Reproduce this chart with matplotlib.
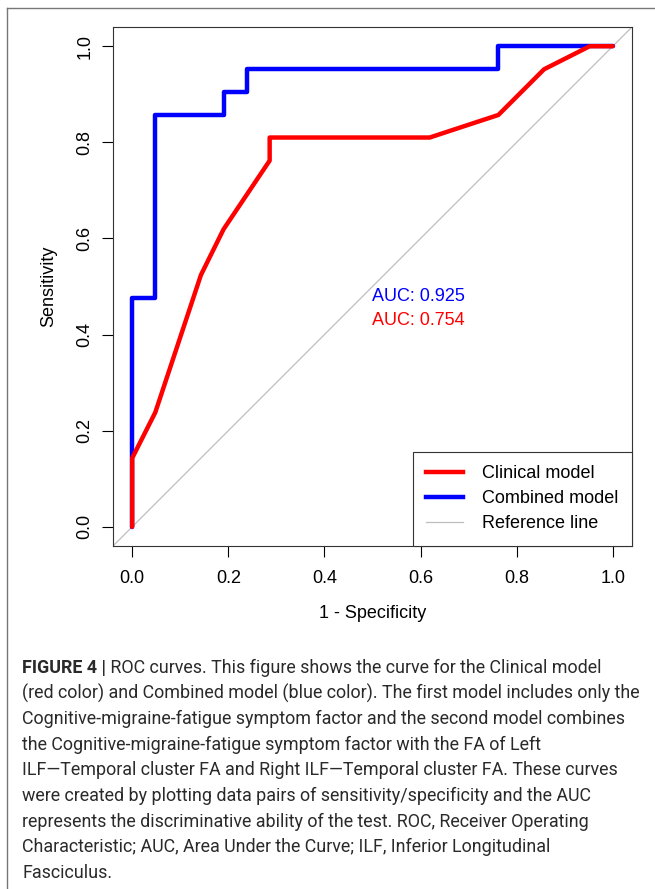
import matplotlib
matplotlib.use("Agg")
import matplotlib.pyplot as plt
from matplotlib.lines import Line2D

# ROC points (1 - specificity, sensitivity)
CLINICAL_FPR = [0.0, 0.0, 0.048, 0.143, 0.190, 0.286, 0.286, 0.619, 0.762, 0.857, 0.952, 1.0]
CLINICAL_TPR = [0.0, 0.143, 0.238, 0.524, 0.619, 0.762, 0.810, 0.810, 0.857, 0.952, 1.0, 1.0]

COMBINED_FPR = [0.0, 0.0, 0.048, 0.048, 0.190, 0.190, 0.238, 0.238, 0.762, 0.762, 1.0]
COMBINED_TPR = [0.0, 0.476, 0.476, 0.857, 0.857, 0.905, 0.905, 0.952, 0.952, 1.0, 1.0]

AUC_COMBINED = 0.925
AUC_CLINICAL = 0.754

LEGEND_LABELS = ["Clinical model", "Combined model", "Reference line"]
TICKS = [0.0, 0.2, 0.4, 0.6, 0.8, 1.0]

CAPTION_LINES = [
    ("FIGURE 4 |", " ROC curves. This figure shows the curve for the Clinical model"),
    ("", "(red color) and Combined model (blue color). The first model includes only the"),
    ("", "Cognitive-migraine-fatigue symptom factor and the second model combines"),
    ("", "the Cognitive-migraine-fatigue symptom factor with the FA of Left"),
    ("", "ILF\u2014Temporal cluster FA and Right ILF\u2014Temporal cluster FA. These curves"),
    ("", "were created by plotting data pairs of sensitivity/specificity and the AUC"),
    ("", "represents the discriminative ability of the test. ROC, Receiver Operating"),
    ("", "Characteristic; AUC, Area Under the Curve; ILF, Inferior Longitudinal"),
    ("", "Fasciculus."),
]

W, H = 655, 889
FS = 13
plt.rcParams["font.family"] = ["Liberation Sans", "DejaVu Sans"]

fig = plt.figure(figsize=(W / 100, H / 100), dpi=100)
ax = fig.add_axes([113 / W, 1 - 546 / H, 519 / W, 519 / H])

ax.plot([-0.04, 1.04], [-0.04, 1.04], color="#bebebe", lw=0.9, zorder=1)
ax.plot(COMBINED_FPR, COMBINED_TPR, color="#0000ff", lw=3.2,
        solid_capstyle="round", solid_joinstyle="round", zorder=2)
ax.plot(CLINICAL_FPR, CLINICAL_TPR, color="#ff0000", lw=3.2,
        solid_capstyle="round", solid_joinstyle="round", zorder=3)

ax.text(0.5, 0.48, f"AUC: {AUC_COMBINED:.3f}", color="#0000ff", fontsize=FS,
        ha="left", va="center")
ax.text(0.5, 0.43, f"AUC: {AUC_CLINICAL:.3f}", color="#ff0000", fontsize=FS,
        ha="left", va="center")

ax.set_xlim(-0.04, 1.04)
ax.set_ylim(-0.04, 1.04)
ax.set_xticks(TICKS)
ax.set_yticks(TICKS)
ax.set_xticklabels([f"{t:.1f}" for t in TICKS])
ax.set_yticklabels([f"{t:.1f}" for t in TICKS], rotation=90, va="center")
ax.tick_params(direction="out", length=8, width=0.8, labelsize=FS, colors="black")
ax.tick_params(axis="x", pad=9)
ax.tick_params(axis="y", pad=6)
for s in ax.spines.values():
    s.set_linewidth(0.8)
    s.set_color("#333333")
ax.set_xlabel("1 - Specificity", fontsize=FS, labelpad=13)
ax.set_ylabel("Sensitivity", fontsize=FS, labelpad=14)

handles = [
    Line2D([], [], color="#ff0000", lw=3.2),
    Line2D([], [], color="#0000ff", lw=3.2),
    Line2D([], [], color="#bebebe", lw=0.9),
]
leg = ax.legend(handles, LEGEND_LABELS, loc="lower right", borderaxespad=0,
                fontsize=FS, handlelength=2.05, handletextpad=1.05,
                borderpad=0.75, labelspacing=0.45, fancybox=False, framealpha=1)
leg.get_frame().set_edgecolor("#333333")
leg.get_frame().set_linewidth(0.8)

# outer frame (top and left edges visible)
fig.add_artist(Line2D([7 / W, 1], [1 - 8 / H, 1 - 8 / H], transform=fig.transFigure,
                      color="#777777", lw=1.0))
fig.add_artist(Line2D([7 / W, 7 / W], [0, 1 - 8 / H], transform=fig.transFigure,
                      color="#777777", lw=1.0))

# caption
cap_font = ["Liberation Sans Narrow", "Roboto", "DejaVu Sans"]
CFS = 12.9
y0 = 668
for i, (bold, rest) in enumerate(CAPTION_LINES):
    y = 1 - (y0 + i * 25.6) / H
    x = 22 / W
    if bold:
        t = fig.text(x, y, bold, fontsize=CFS, fontweight="bold",
                     family=cap_font, color="#2a2a2a", va="center", ha="left")
        fig.canvas.draw()
        bb = t.get_window_extent()
        x = bb.x1 / W
    fig.text(x, y, rest, fontsize=CFS, family=cap_font, color="#2a2a2a",
             va="center", ha="left")

fig.savefig("out.png", dpi=100)
